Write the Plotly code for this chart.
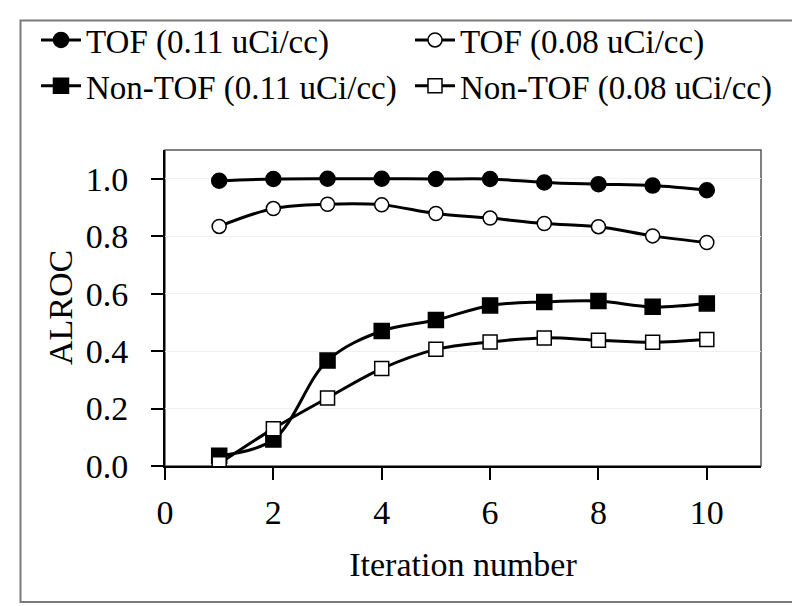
import plotly.graph_objects as go

iterations = [1, 2, 3, 4, 5, 6, 7, 8, 9, 10]
tof_011 = [0.993, 0.999, 1.000, 1.000, 0.999, 0.999, 0.987, 0.981, 0.976, 0.960]
tof_008 = [0.834, 0.896, 0.911, 0.909, 0.879, 0.863, 0.844, 0.833, 0.801, 0.778]
nontof_011 = [0.036, 0.092, 0.367, 0.470, 0.508, 0.559, 0.571, 0.574, 0.554, 0.566]
nontof_008 = [0.008, 0.130, 0.237, 0.339, 0.406, 0.432, 0.446, 0.438, 0.431, 0.440]

names = ["TOF (0.11 uCi/cc)", "TOF (0.08 uCi/cc)",
         "Non-TOF (0.11 uCi/cc)", "Non-TOF (0.08 uCi/cc)"]
x_ticks = [0, 2, 4, 6, 8, 10]
y_ticks = [0.0, 0.2, 0.4, 0.6, 0.8, 1.0]
x_title = "Iteration number"
y_title = "ALROC"

W, H = 800, 606
L, R, T, B = 157, 47, 142, 148
pw, ph = W - L - R, H - T - B
FONT = "Liberation Serif, Times New Roman, serif"
FS = 34

series = [
    (tof_011, "circle", "black", 15, "legend"),
    (tof_008, "circle", "white", 14, "legend2"),
    (nontof_011, "square", "black", 15, "legend"),
    (nontof_008, "square", "white", 14, "legend2"),
]

fig = go.Figure()
for (vals, sym, fill, sz, lg), name in zip(series, names):
    fig.add_trace(go.Scatter(
        x=iterations, y=vals, name=name, mode="lines+markers", legend=lg,
        line=dict(color="black", width=3, shape="spline", smoothing=1.0),
        marker=dict(symbol=sym, size=sz, color=fill,
                    line=dict(color="black", width=1.5)),
    ))

def px_to_paper_x(p):
    return (p - L) / pw

def px_to_paper_y(p):
    return (H - B - p) / ph

shapes = [
    dict(type="rect", xref="paper", yref="paper", x0=0, x1=1, y0=0, y1=1,
         line=dict(color="#555555", width=1.5), layer="below"),
    dict(type="rect", xref="paper", yref="paper",
         x0=px_to_paper_x(12.5), x1=px_to_paper_x(787),
         y0=px_to_paper_y(594), y1=px_to_paper_y(12.5),
         line=dict(color="#7a7a7a", width=2)),
]

legend_common = dict(orientation="v", xref="container", yref="container",
                     xanchor="left", yanchor="top", itemwidth=40,
                     font=dict(family=FONT, size=33, color="black"),
                     bgcolor="rgba(0,0,0,0)", tracegroupgap=0)

fig.update_layout(
    width=W, height=H,
    margin=dict(l=L, r=R, t=T, b=B, autoexpand=False),
    paper_bgcolor="white", plot_bgcolor="white",
    font=dict(family=FONT, size=FS, color="black"),
    showlegend=True,
    legend=dict(x=28 / W, y=1 - 4 / H, **legend_common),
    legend2=dict(x=402 / W, y=1 - 4 / H, **legend_common),
    shapes=shapes,
    annotations=[dict(text=y_title, xref="paper", yref="paper",
                      x=px_to_paper_x(52), y=0.5, xanchor="center", yanchor="middle",
                      textangle=-90, showarrow=False,
                      font=dict(family=FONT, size=FS, color="black"))],
    xaxis=dict(range=[0, 11], tickvals=x_ticks, ticktext=[str(v) for v in x_ticks],
               showline=True, linecolor="black", linewidth=2,
               ticks="outside", ticklen=12, tickwidth=2, tickcolor="black",
               showgrid=False, zeroline=False, ticklabelstandoff=3,
               title=dict(text=x_title, standoff=22,
                          font=dict(family=FONT, size=FS)),
               tickfont=dict(family=FONT, size=FS)),
    yaxis=dict(range=[0, 1.1], tickvals=y_ticks, ticktext=[f"{v:.1f}" for v in y_ticks],
               showline=True, linecolor="black", linewidth=2,
               ticks="outside", ticklen=12, tickwidth=2, tickcolor="black",
               showgrid=True, gridcolor="#f0f0f0", gridwidth=1, zeroline=False,
               ticklabelstandoff=16,
               tickfont=dict(family=FONT, size=FS)),
)

fig.write_html("out.html")
